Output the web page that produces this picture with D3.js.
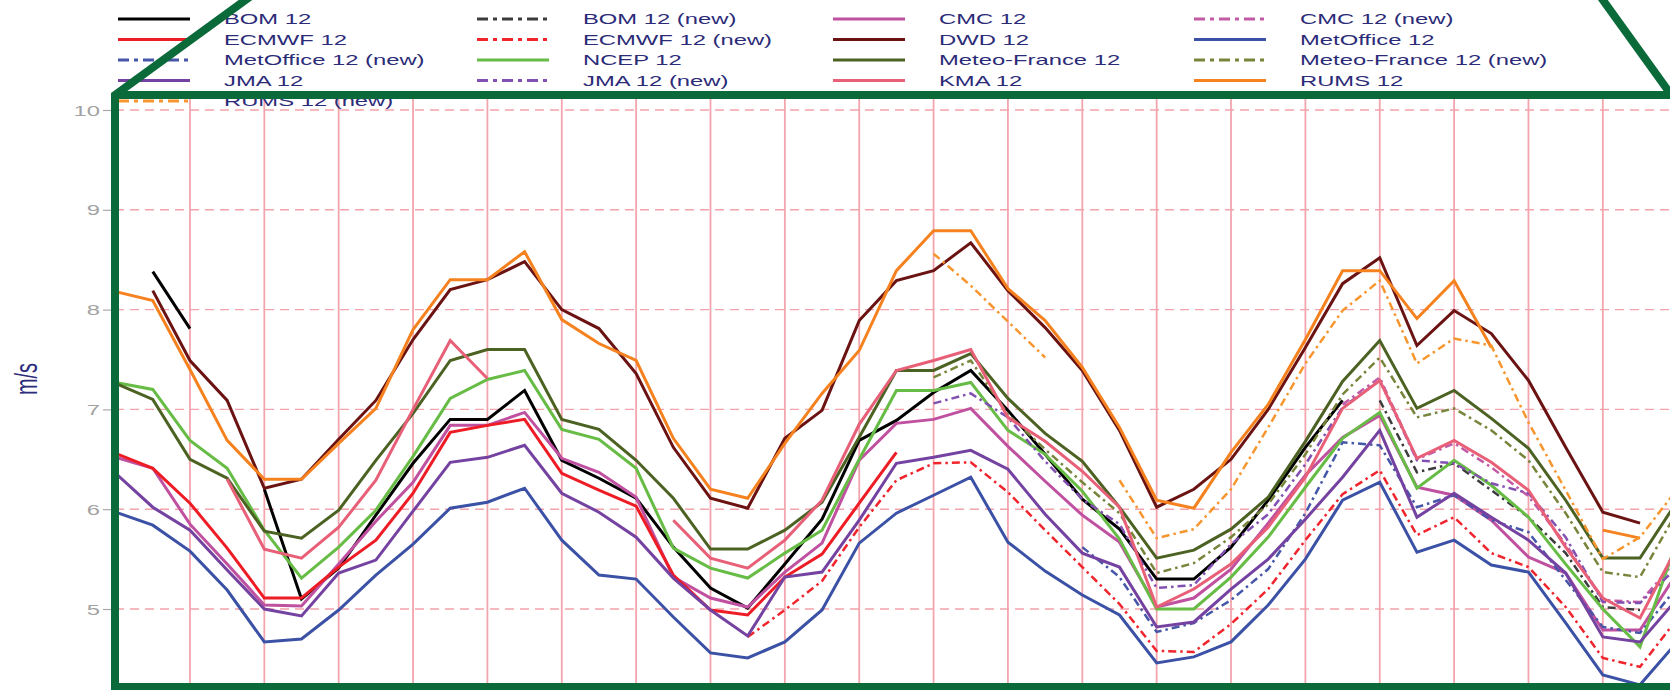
<!DOCTYPE html>
<html>
<head>
<meta charset="utf-8">
<script src="https://cdn.jsdelivr.net/npm/d3@7"></script>
<style>
  html, body { margin: 0; padding: 0; background: #ffffff; }
  svg { display: block; }
  text { font-family: "Liberation Sans", Arial, sans-serif; }
</style>
</head>
<body>
<svg id="chart" width="1670" height="690"></svg>
<script>
// Wind speed, 12 h forecasts per model, two runs per day (index = run number)
const yTicks = [5, 6, 7, 8, 9, 10];
const yUnit = "m/s";

const bom12 = [null, 8.38, 7.81, null, 6.2, 5.1, 5.41, 5.94, 6.46, 6.9, 6.9, 7.19, 6.49, 6.31, 6.11, 5.62, 5.21, 5.01, 5.45, 5.9, 6.69, 6.89, 7.17, 7.39, 6.99, 6.55, 6.1, 5.8, 5.3, 5.3, 5.62, 6.09, 6.62, 7.09, null, null, null, null, null, null, null, null, null];
const bom12New = [null, null, null, null, null, null, null, null, null, null, null, null, null, null, null, null, null, null, null, null, null, null, null, null, null, null, null, null, null, null, null, null, null, null, 7.09, 6.37, 6.46, 6.19, 5.92, 5.56, 5.02, 4.99, null];
const cmc12 = [6.52, 6.41, 5.85, 5.45, 5.04, 5.03, 5.45, 5.88, 6.27, 6.84, 6.84, 6.97, 6.51, 6.37, 6.12, 5.32, 5.11, 5.02, 5.37, 5.66, 6.49, 6.86, 6.9, 7.01, 6.63, 6.28, 5.94, 5.67, 5.02, 5.11, 5.4, 5.86, 6.34, 6.72, 6.94, 6.22, 6.14, 5.89, 5.52, 5.36, 4.79, 4.79, 5.36];
const cmc12New = [null, null, null, null, null, null, null, null, null, null, null, null, null, null, null, null, null, null, null, null, null, null, null, null, null, null, null, null, null, null, null, null, null, 7.05, 7.32, 6.5, 6.66, 6.42, 6.13, 5.65, 5.09, 5.07, 5.5];
const ecmwf12 = [6.56, 6.41, 6.06, 5.61, 5.11, 5.11, 5.42, 5.69, 6.16, 6.77, 6.84, 6.9, 6.36, 6.19, 6.03, 5.34, 4.99, 4.94, 5.32, 5.55, 6.06, 6.57, null, null, null, null, null, null, null, null, null, null, null, null, null, null, null, null, null, null, null, null, null];
const ecmwf12New = [null, null, null, null, null, null, null, null, null, null, null, null, null, null, null, null, null, 4.72, 4.99, 5.28, 5.82, 6.29, 6.46, 6.47, 6.17, 5.79, 5.42, 5.05, 4.58, 4.57, 4.85, 5.2, 5.69, 6.15, 6.39, 5.74, 5.92, 5.56, 5.42, 5.02, 4.51, 4.42, 4.9];
const dwd12 = [null, 8.19, 7.49, 7.09, 6.21, 6.3, 6.7, 7.09, 7.7, 8.2, 8.3, 8.48, 8.0, 7.81, 7.36, 6.62, 6.11, 6.01, 6.71, 6.99, 7.89, 8.29, 8.39, 8.67, 8.19, 7.82, 7.39, 6.79, 6.02, 6.2, 6.5, 7.0, 7.62, 8.26, 8.52, 7.64, 7.99, 7.76, 7.29, 6.62, 5.97, 5.86, null];
const metOffice12 = [5.97, 5.84, 5.58, 5.19, 4.67, 4.7, 4.99, 5.34, 5.65, 6.01, 6.07, 6.21, 5.69, 5.34, 5.3, 4.92, 4.56, 4.51, 4.67, 4.99, 5.66, 5.96, 6.14, 6.32, 5.67, 5.38, 5.14, 4.94, 4.46, 4.52, 4.67, 5.04, 5.5, 6.09, 6.27, 5.57, 5.69, 5.44, 5.37, 4.86, 4.34, 4.24, 4.67];
const metOffice12New = [null, null, null, null, null, null, null, null, null, null, null, null, null, null, null, null, null, null, null, null, null, null, null, null, null, null, 5.62, 5.32, 4.77, 4.86, 5.09, 5.4, 5.96, 6.67, 6.64, 6.02, 6.14, 5.89, 5.77, 5.29, 4.82, 4.76, 5.22];
const ncep12 = [7.27, 7.2, 6.69, 6.41, 5.79, 5.31, 5.62, 5.99, 6.53, 7.11, 7.3, 7.39, 6.8, 6.7, 6.41, 5.61, 5.41, 5.31, 5.56, 5.79, 6.5, 7.19, 7.19, 7.27, 6.79, 6.55, 6.18, 5.7, 5.0, 5.0, 5.32, 5.72, 6.22, 6.71, 6.97, 6.21, 6.49, 6.24, 5.92, 5.45, 5.0, 4.62, 5.69];
const meteoFrance12 = [7.26, 7.1, 6.5, 6.31, 5.78, 5.71, 5.99, 6.49, 6.96, 7.49, 7.6, 7.6, 6.9, 6.8, 6.49, 6.11, 5.6, 5.6, 5.79, 6.07, 6.72, 7.39, 7.39, 7.56, 7.11, 6.76, 6.48, 6.02, 5.51, 5.59, 5.8, 6.12, 6.68, 7.28, 7.69, 7.01, 7.19, 6.91, 6.61, 6.09, 5.51, 5.51, 6.08];
const meteoFrance12New = [null, null, null, null, null, null, null, null, null, null, null, null, null, null, null, null, null, null, null, null, null, null, 7.32, 7.49, 6.95, 6.6, 6.27, 5.96, 5.36, 5.46, 5.72, 6.05, 6.55, 7.15, 7.52, 6.92, 7.01, 6.79, 6.49, 5.96, 5.37, 5.32, 5.98];
const jma12 = [6.36, 6.02, 5.79, 5.39, 5.0, 4.93, 5.36, 5.49, 5.98, 6.47, 6.52, 6.64, 6.16, 5.97, 5.72, 5.31, 4.99, 4.73, 5.32, 5.37, 5.89, 6.46, 6.52, 6.59, 6.4, 5.95, 5.56, 5.42, 4.82, 4.87, 5.2, 5.5, 5.9, 6.32, 6.79, 5.92, 6.16, 5.92, 5.69, 5.36, 4.72, 4.67, 5.1];
const jma12New = [null, null, null, null, null, null, null, null, null, null, null, null, null, null, null, null, null, null, null, null, null, null, 7.06, 7.16, 6.92, 6.48, 6.1, 5.85, 5.21, 5.24, 5.65, 5.95, 6.45, 7.02, 7.29, 6.49, 6.46, 6.26, 6.16, 5.72, 5.07, 5.06, 5.42];
const kma12 = [null, null, null, 6.3, 5.6, 5.51, 5.82, 6.29, 7.0, 7.69, 7.31, null, null, null, null, 5.89, 5.51, 5.41, 5.69, 6.09, 6.85, 7.39, 7.49, 7.6, 6.92, 6.68, 6.38, 6.02, 5.02, 5.2, 5.45, 5.82, 6.32, 7.01, 7.29, 6.51, 6.69, 6.47, 6.19, 5.62, 5.11, 4.91, 5.62];
const rums12 = [8.18, 8.09, 7.4, 6.69, 6.3, 6.3, 6.66, 7.01, 7.8, 8.3, 8.3, 8.58, 7.9, 7.66, 7.49, 6.71, 6.2, 6.11, 6.66, 7.16, 7.59, 8.39, 8.79, 8.79, 8.21, 7.89, 7.42, 6.82, 6.09, 6.01, 6.57, 7.05, 7.7, 8.39, 8.39, 7.91, 8.29, 7.62, null, null, 5.79, 5.71, null];
const rums12New = [null, null, null, null, null, null, null, null, null, null, null, null, null, null, null, null, null, null, null, null, null, null, 8.56, 8.24, 7.88, 7.52, null, 6.29, 5.71, 5.8, 6.2, 6.82, 7.46, 7.99, 8.29, 7.46, 7.71, 7.64, 6.87, 6.19, 5.5, 5.72, 6.2];

// Legend order (row by row, four columns) is also the drawing order
const series = [
  { name: "BOM 12",                  values: bom12,             color: "#000000", dashed: false },
  { name: "BOM 12 (new)",            values: bom12New,          color: "#3c3c3c", dashed: true },
  { name: "CMC 12",                  values: cmc12,             color: "#c050a0", dashed: false },
  { name: "CMC 12 (new)",            values: cmc12New,          color: "#c35aa6", dashed: true },
  { name: "ECMWF 12",                values: ecmwf12,           color: "#ee1c25", dashed: false },
  { name: "ECMWF 12 (new)",          values: ecmwf12New,        color: "#f0242c", dashed: true },
  { name: "DWD 12",                  values: dwd12,             color: "#6b1312", dashed: false },
  { name: "MetOffice 12",            values: metOffice12,       color: "#3b51a5", dashed: false },
  { name: "MetOffice 12 (new)",      values: metOffice12New,    color: "#4656a8", dashed: true },
  { name: "NCEP 12",                 values: ncep12,            color: "#66bc45", dashed: false },
  { name: "Meteo-France 12",         values: meteoFrance12,     color: "#4c6223", dashed: false },
  { name: "Meteo-France 12 (new)",   values: meteoFrance12New,  color: "#76853a", dashed: true },
  { name: "JMA 12",                  values: jma12,             color: "#7442a0", dashed: false },
  { name: "JMA 12 (new)",            values: jma12New,          color: "#8150b0", dashed: true },
  { name: "KMA 12",                  values: kma12,             color: "#e85f78", dashed: false },
  { name: "RUMS 12",                 values: rums12,            color: "#f5821f", dashed: false },
  { name: "RUMS 12 (new)",           values: rums12New,         color: "#f7962e", dashed: true }
];

const W = 1670, H = 690;
const plot = { left: 115, top: 97, right: 1670, bottom: 687 };
const textStretch = 1.7;   // type in this chart is set wide

const svg = d3.select("#chart");

const x = d3.scaleLinear().domain([0, 42]).range([115.6, 1677.2]);
const y = d3.scaleLinear().domain([5, 10]).range([609, 110]);

svg.append("defs").append("clipPath").attr("id", "plotClip")
  .append("rect")
  .attr("x", plot.left).attr("y", plot.top)
  .attr("width", plot.right - plot.left).attr("height", plot.bottom - plot.top);

// grid: one solid line per day, dashed line per whole m/s
const grid = svg.append("g").attr("clip-path", "url(#plotClip)");
const dayStarts = d3.range(2, 43, 2);
grid.selectAll("line.day").data(dayStarts).join("line")
  .attr("class", "day")
  .attr("x1", d => x(d)).attr("x2", d => x(d))
  .attr("y1", plot.top).attr("y2", plot.bottom)
  .attr("stroke", "#f3a5ae").attr("stroke-width", 1.8);
grid.selectAll("line.level").data(yTicks).join("line")
  .attr("class", "level")
  .attr("x1", plot.left).attr("x2", plot.right)
  .attr("y1", d => y(d)).attr("y2", d => y(d))
  .attr("stroke", "#f4a3ac").attr("stroke-width", 1.4)
  .attr("stroke-dasharray", "9,6");

// frame
svg.append("line").attr("x1", plot.left - 2).attr("x2", plot.right).attr("y1", 98).attr("y2", 98)
  .attr("stroke", "#9a9a9a").attr("stroke-width", 1);
svg.append("line").attr("x1", 113).attr("x2", 113).attr("y1", 98).attr("y2", H)
  .attr("stroke", "#9aa9a0").attr("stroke-width", 1);

// y axis
const yAxis = d3.axisLeft(y).tickValues(yTicks).tickSize(9).tickPadding(0).tickFormat(d3.format("d"));
const yG = svg.append("g").attr("transform", "translate(112,0)").call(yAxis);
yG.select(".domain").remove();
yG.selectAll(".tick line").attr("stroke", "#a8a8a8").attr("stroke-width", 1.2);
yG.selectAll(".tick text")
  .attr("x", null).attr("dy", null)
  .attr("transform", `translate(-12,5) scale(${textStretch},1)`)
  .attr("fill", "#a2a2a2")
  .style("font-size", "14px")
  .style("font-family", "'Liberation Sans', Arial, sans-serif");

svg.append("text")
  .attr("transform", `translate(37,379) scale(1.55,1) rotate(-90)`)
  .attr("text-anchor", "middle")
  .attr("fill", "#2d2c7a")
  .style("font-size", "20px")
  .text(yUnit);

// series lines
const line = d3.line()
  .defined(d => d != null)
  .x((d, i) => x(i))
  .y(d => y(d));

const lines = svg.append("g").attr("clip-path", "url(#plotClip)");
lines.selectAll("path").data(series).join("path")
  .attr("d", s => line(s.values))
  .attr("fill", "none")
  .attr("stroke", s => s.color)
  .attr("stroke-width", s => s.dashed ? 2.5 : 3)
  .attr("stroke-dasharray", s => s.dashed ? "8,4,2.5,4" : null)
  .attr("stroke-linejoin", "miter");

// legend: four columns
const legendCols = [118, 477, 833, 1194];
const legendTextOffset = 106;
const legendRow0 = 19, legendRowStep = 20.5;
const legend = svg.append("g");
const items = legend.selectAll("g").data(series).join("g")
  .attr("transform", (s, k) => `translate(${legendCols[k % 4]},${legendRow0 + Math.floor(k / 4) * legendRowStep})`);
items.append("line")
  .attr("x1", 0).attr("x2", 72).attr("y1", 0).attr("y2", 0)
  .attr("stroke", s => s.color).attr("stroke-width", 3.2)
  .attr("stroke-dasharray", s => s.dashed ? "11,5,4,5" : null);
items.append("text")
  .attr("transform", `translate(${legendTextOffset},5) scale(${textStretch},1)`)
  .attr("fill", "#2b2b78")
  .style("font-size", "14px")
  .text(s => s.name);

// green callout frame on top
const callout = svg.append("g").attr("fill", "none").attr("stroke", "#0b6a39")
  .attr("stroke-width", 8).attr("stroke-linejoin", "miter");
callout.append("path").attr("d", `M251,-4 L115,95 L115,${H + 10}`);
callout.append("path").attr("d", `M115,95 L${W + 10},95`);
callout.append("path").attr("d", `M111,687 L${W + 10},687`);
callout.append("path").attr("d", `M1600,-4 L1672,96`);
</script>
</body>
</html>
